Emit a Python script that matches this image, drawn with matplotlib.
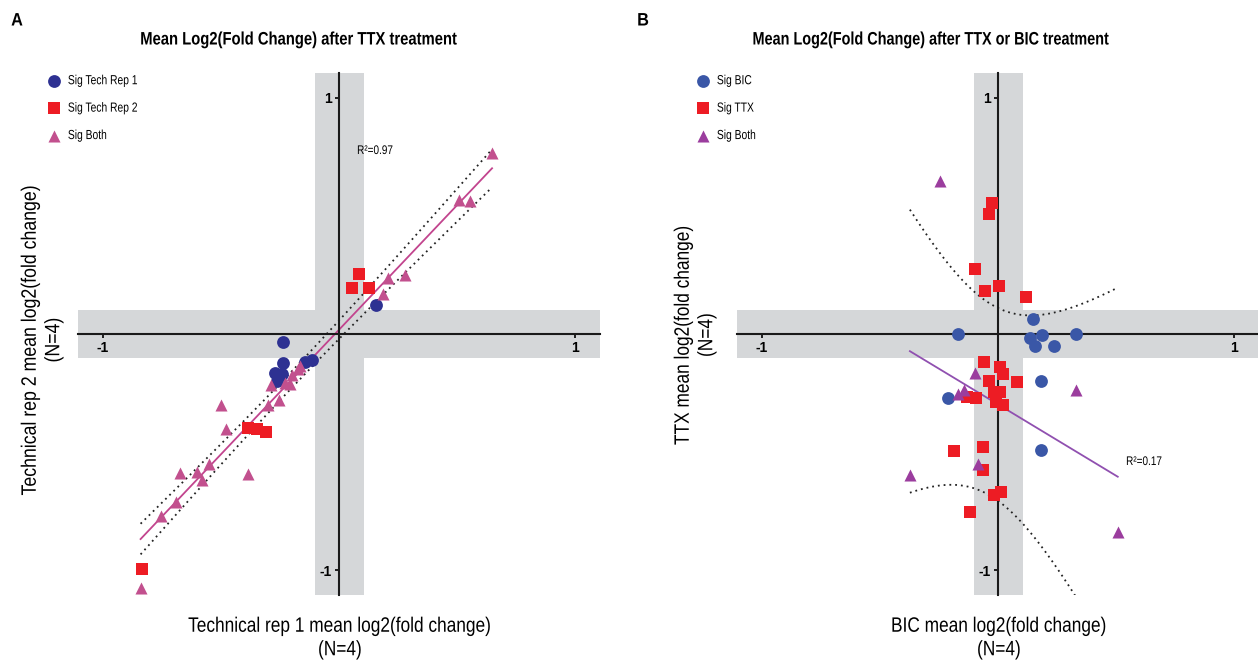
import numpy as np
import matplotlib.pyplot as plt
from matplotlib.patheffects import AbstractPathEffect
from matplotlib.transforms import Affine2D

plt.rcParams['font.family'] = ['Liberation Sans', 'DejaVu Sans']

# ---- panel A: technical rep 1 vs rep 2 (TTX) ----
a_rep1_x = [0.155, -0.239, -0.236, -0.271, -0.243, -0.264, -0.144, -0.116]
a_rep1_y = [0.123, -0.035, -0.123, -0.166, -0.168, -0.197, -0.119, -0.108]
a_rep2_x = [0.086, 0.054, 0.128, -0.384, -0.349, -0.309, -0.833]
a_rep2_y = [0.252, 0.194, 0.195, -0.398, -0.404, -0.415, -0.993]
a_both_x = [0.280, 0.206, 0.185, 0.648, 0.508, 0.555, -0.165, -0.172, -0.198, -0.229,
            -0.208, -0.289, -0.253, -0.302, -0.500, -0.479, -0.387, -0.674, -0.600,
            -0.550, -0.578, -0.688, -0.754, -0.840]
a_both_y = [0.250, 0.238, 0.170, 0.768, 0.568, 0.565, -0.137, -0.147, -0.175, -0.208,
            -0.211, -0.218, -0.281, -0.302, -0.299, -0.401, -0.591, -0.588, -0.584,
            -0.552, -0.619, -0.711, -0.770, -1.077]
a_fit = (1.055, 0.018)          # slope, intercept
a_ci = (-0.2, 0.001225, 0.0073)  # centre, min var, curvature of the dotted band
a_r2 = "R²=0.97"

# ---- panel B: BIC vs TTX ----
b_bic_x = [0.147, -0.168, 0.136, 0.186, 0.331, 0.157, 0.236, 0.182, -0.211, 0.182]
b_bic_y = [0.065, 0.002, -0.019, -0.004, 0.002, -0.049, -0.052, -0.197, -0.271, -0.489]
b_ttx_x = [-0.027, -0.037, -0.097, -0.055, 0.006, 0.120, -0.061, 0.010, 0.021, -0.039,
           0.079, -0.016, 0.008, -0.131, -0.093, -0.008, 0.020, -0.065, -0.185, -0.065,
           -0.016, 0.013, -0.119]
b_ttx_y = [0.554, 0.509, 0.277, 0.183, 0.205, 0.155, -0.118, -0.141, -0.169, -0.200,
           -0.203, -0.245, -0.247, -0.268, -0.273, -0.289, -0.299, -0.478, -0.496, -0.576,
           -0.682, -0.668, -0.753]
b_both_x = [-0.246, -0.097, -0.143, -0.171, 0.331, -0.086, -0.373, 0.507]
b_both_y = [0.649, -0.165, -0.235, -0.252, -0.239, -0.552, -0.599, -0.838]
b_fit = (-0.604, -0.298)
b_ci = (-0.03, 0.165, 1.65)
b_r2 = "R²=0.17"


class Narrow(AbstractPathEffect):
    # squeeze text along its baseline, to mimic a narrow typeface
    def __init__(self, f=0.82, anchor='center', vertical=False):
        super().__init__()
        self.f, self.anchor, self.vertical = f, anchor, vertical

    def draw_path(self, renderer, gc, tpath, affine, rgbFace=None):
        bb = tpath.get_extents(affine)
        if self.vertical:
            c = (bb.y0 + bb.y1) / 2
            t = affine + Affine2D().translate(0, -c).scale(1, self.f).translate(0, c)
        else:
            c = {'left': bb.x0, 'right': bb.x1}.get(self.anchor, (bb.x0 + bb.x1) / 2)
            t = affine + Affine2D().translate(-c, 0).scale(self.f, 1).translate(c, 0)
        renderer.draw_path(gc, tpath, t, rgbFace)


W, H = 1258, 666
fig = plt.figure(figsize=(W / 100, H / 100), dpi=100)

band = '#d5d7d9'
lim = 1.105


def panel(left, xs, ys, colors, markers, sizes, labels, fit, ci, linecol, r2, r2pos, legx):
    ax = fig.add_axes([left / W, 71 / H, 522 / W, 522 / H])
    ax.set_xlim(-lim, lim)
    ax.set_ylim(-lim, lim)
    ax.axvspan(-0.1, 0.105, color=band, lw=0, zorder=0)
    ax.axhspan(-0.1, 0.1, color=band, lw=0, zorder=0)
    for s in ['top', 'right']:
        ax.spines[s].set_visible(False)
    for s in ['left', 'bottom']:
        ax.spines[s].set_position(('data', 0))
        ax.spines[s].set_linewidth(1.5)
        ax.spines[s].set_color('#1a1a1a')
    ax.set_xticks([-1, 1])
    ax.set_yticks([-1, 1])
    ax.set_xticklabels(['-1', '1'], fontweight='bold', fontsize=10)
    ax.set_yticklabels(['-1', '1'], fontweight='bold', fontsize=10)
    ax.tick_params(length=3, width=1.2, pad=2)

    handles = []
    for x, y, c, m, sz in zip(xs, ys, colors, markers, sizes):
        h = ax.scatter(x, y, c=c, marker=m, s=sz, lw=0, zorder=3)
        handles.append(h)

    allx = np.concatenate([np.array(v) for v in xs])
    xx = np.linspace(allx.min(), allx.max(), 200)
    yy = fit[0] * xx + fit[1]
    hw = np.sqrt(ci[1] + ci[2] * (xx - ci[0]) ** 2)
    ax.plot(xx, yy, color=linecol, lw=1.3, zorder=2)
    ax.plot(xx, yy + hw, color='#222222', lw=1.3, ls=(0, (1, 2.2)), zorder=2)
    ax.plot(xx, yy - hw, color='#222222', lw=1.3, ls=(0, (1, 2.2)), zorder=2)
    fig.text(r2pos[0] / W, 1 - r2pos[1] / H, r2, fontsize=9, ha='right', va='center',
             path_effects=[Narrow(0.8, 'right')])

    leg = ax.legend(handles, labels, loc='upper left',
                    bbox_to_anchor=(legx / W, 1 - 75 / H), bbox_transform=fig.transFigure,
                    frameon=False, fontsize=9.5, labelspacing=1.15, handlelength=1.2,
                    handletextpad=0.45, borderpad=0, borderaxespad=0, scatterpoints=1)
    for t in leg.get_texts():
        t.set_path_effects([Narrow(0.78, 'left')])
    return ax


panel(78, [a_rep1_x, a_rep2_x, a_both_x], [a_rep1_y, a_rep2_y, a_both_y],
      ['#2e3192', '#ed1c24', '#c2508e'], ['o', 's', '^'], [85, 70, 75],
      ['Sig Tech Rep 1', 'Sig Tech Rep 2', 'Sig Both'],
      a_fit, a_ci, '#c2448e', a_r2, (393, 151), 46)

panel(737, [b_bic_x, b_ttx_x, b_both_x], [b_bic_y, b_ttx_y, b_both_y],
      ['#3a57a7', '#ed1c24', '#9b3d9e'], ['o', 's', '^'], [85, 70, 75],
      ['Sig BIC', 'Sig TTX', 'Sig Both'],
      b_fit, b_ci, '#9050b0', b_r2, (1162, 462), 695)

# titles and panel letters
fig.text(298 / W, 1 - 40 / H, 'Mean Log2(Fold Change) after TTX treatment',
         ha='center', va='center', fontweight='bold', fontsize=13,
         path_effects=[Narrow(0.82)])
fig.text(930 / W, 1 - 40 / H, 'Mean Log2(Fold Change) after TTX or BIC treatment',
         ha='center', va='center', fontweight='bold', fontsize=13,
         path_effects=[Narrow(0.8)])
fig.text(17 / W, 1 - 21 / H, 'A', ha='center', va='center', fontweight='bold', fontsize=13,
         path_effects=[Narrow(0.9)])
fig.text(643 / W, 1 - 21 / H, 'B', ha='center', va='center', fontweight='bold', fontsize=13,
         path_effects=[Narrow(0.9)])

# axis labels
fig.text(340 / W, 1 - 638 / H, 'Technical rep 1 mean log2(fold change)\n(N=4)',
         ha='center', va='center', fontsize=15, linespacing=1.3,
         path_effects=[Narrow(0.83)])
fig.text(999 / W, 1 - 638 / H, 'BIC mean log2(fold change)\n(N=4)',
         ha='center', va='center', fontsize=15, linespacing=1.3,
         path_effects=[Narrow(0.83)])
fig.text(42 / W, 1 - 340 / H, 'Technical rep 2 mean log2(fold change)\n(N=4)',
         ha='center', va='center', fontsize=15, rotation=90, linespacing=1.3,
         path_effects=[Narrow(0.85, vertical=True)])
fig.text(695 / W, 1 - 335 / H, 'TTX mean log2(fold change)\n(N=4)',
         ha='center', va='center', fontsize=15, rotation=90, linespacing=1.3,
         path_effects=[Narrow(0.83, vertical=True)])

fig.savefig('out.png', dpi=100)
